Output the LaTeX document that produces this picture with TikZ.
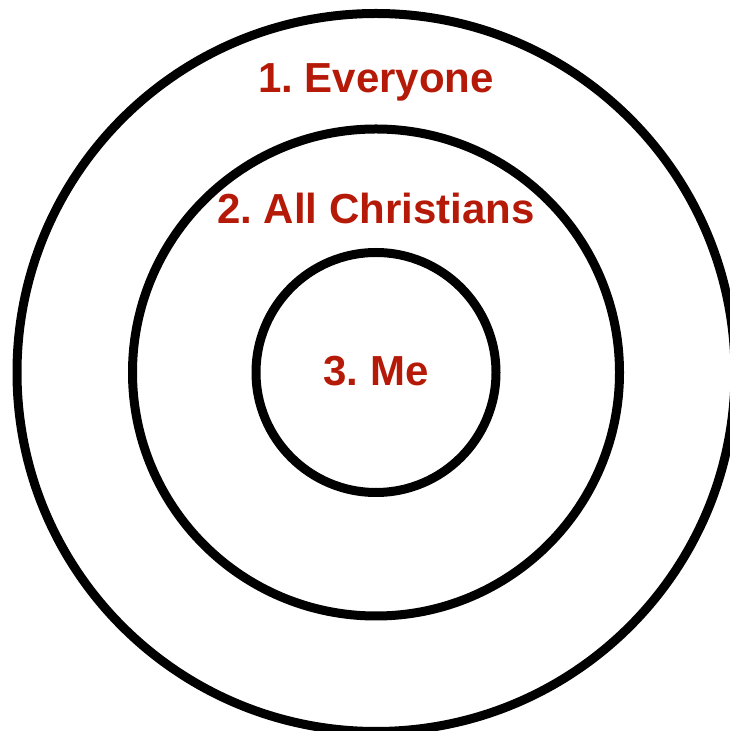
\documentclass[tikz,border=0pt]{standalone}
\usepackage{fontspec}
\usepackage{xcolor}
\usepackage{tikz}
\newfontfamily\ringfont{Liberation Sans}
\definecolor{labelred}{RGB}{181,26,8}
\frenchspacing

\begin{document}
\begin{tikzpicture}[
x=1pt,y=1pt,
ring/.style={circle,draw,line width=9pt,inner sep=0pt},
tag/.style={anchor=base,inner sep=0pt,text=labelred,
  font=\ringfont\bfseries\fontsize{42}{50}\selectfont}
]
\useasboundingbox (0,0) rectangle (730,731);
\clip (0,0) rectangle (730,731);

% Rings
\coordinate (ctr) at (376,358.5);
\node[ring,minimum size=718pt] (everyone) at (ctr) {};
\node[ring,minimum size=487pt] (christians) at (ctr) {};
\node[ring,minimum size=240pt] (me) at (ctr) {};

% Labels
\node[tag] (everyonetag) at (376,638) {1. Everyone};
\node[tag] (christianstag) at (376,507) {2. All Christians};
\node[tag] (metag) at (376,345) {3. Me};

\end{tikzpicture}
\end{document}
